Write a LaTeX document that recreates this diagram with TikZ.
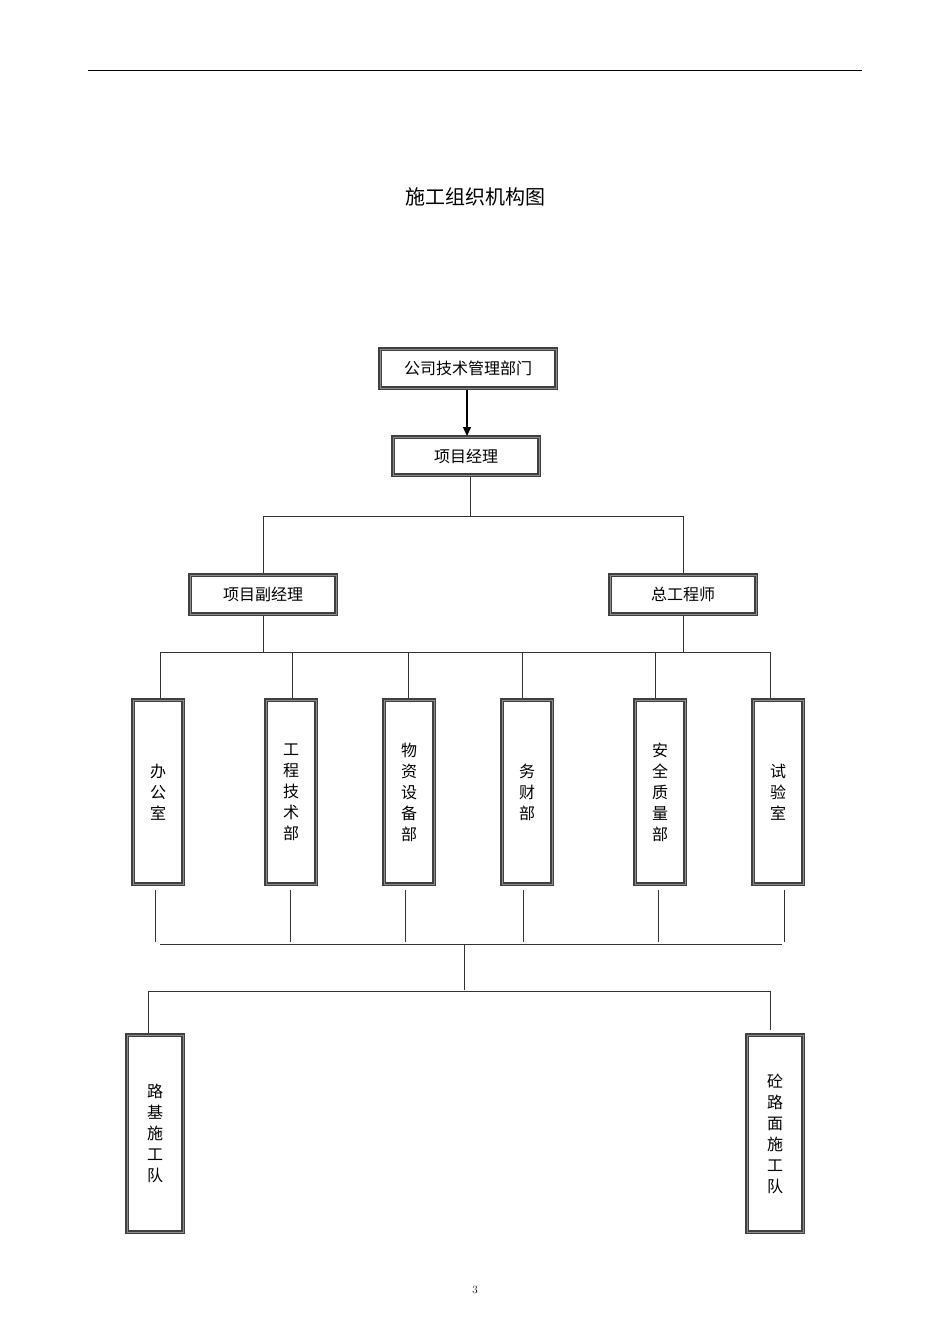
\documentclass[tikz,border=0pt]{standalone}
\usepackage{fontspec}
\newfontfamily\cjk{Noto Sans CJK SC}
\usetikzlibrary{arrows.meta}
\begin{document}
\begin{tikzpicture}[x=1pt,y=-1pt,
  ln/.style={line width=1pt,black!80}]
\useasboundingbox (0,0) rectangle (950,1344);
\def\bx#1#2#3#4#5#6{\draw[draw=black!75,line width=3.5pt] (#2,#3) rectangle (#4,#5);
 \draw[black!45,line width=1pt] (#2,#3) rectangle (#4,#5);
 \node[font=\cjk\fontsize{16}{21}\selectfont,align=center,inner sep=0pt] (#1) at ({(#2+#4)/2},{(#3+#5)/2}) {#6};
 \coordinate (#1t) at ({(#2+#4)/2},#3);}
\draw[line width=1pt] (88,70) -- (862,70);
\node[font=\cjk\fontsize{20}{24}\selectfont] (title) at (475,197) {施工组织机构图};
\bx{a}{380}{349}{556}{388}{公司技术管理部门}
\bx{b}{393}{437}{539}{475}{项目经理}
\bx{c}{190}{575}{336}{614}{项目副经理}
\bx{d}{610}{575}{756}{614}{总工程师}
\coordinate (a1) at (467,390); \coordinate (b1) at (467,436);
\draw[line width=1.4pt,-{Triangle[length=9pt,width=8pt]}] (a1) -- (b1);
\coordinate (p1) at (470,477); \coordinate (p2) at (470,516);
\coordinate (l1) at (263,516); \coordinate (r1) at (683,516);
\coordinate (c1) at (263,573); \coordinate (d1) at (683,573);
\draw[ln] (p1) -- (p2); \draw[ln] (c1) -- (l1) -- (r1) -- (d1);
\coordinate (c2) at (263,616); \coordinate (c3) at (263,652);
\coordinate (d2) at (683,616); \coordinate (d3) at (683,652);
\draw[ln] (c2)--(c3); \draw[ln] (d2)--(d3);
\coordinate (h1) at (160,652); \coordinate (h2) at (770,652);
\draw[ln] (h1)--(h2);
\bx{e1}{133}{700}{183}{884}{办\\公\\室}
\bx{e2}{266}{700}{316}{884}{工\\程\\技\\术\\部}
\bx{e3}{384}{700}{434}{884}{物\\资\\设\\备\\部}
\bx{e4}{502}{700}{552}{884}{务\\财\\部}
\bx{e5}{635}{700}{685}{884}{安\\全\\质\\量\\部}
\bx{e6}{753}{700}{803}{884}{试\\验\\室}
\foreach \x/\y in {160/652,292/652,408/652,522/652,655/652,770/652}{
  \draw[ln] (\x,\y) -- (\x,698);}
\foreach \x in {155,290,405,523,658,784}{
  \draw[ln] (\x,890) -- (\x,942);}
\coordinate (g1) at (160,944); \coordinate (g2) at (782,944);
\draw[ln] (g1)--(g2);
\coordinate (m1) at (464,944); \coordinate (m2) at (464,990);
\draw[ln] (m1)--(m2);
\coordinate (k1) at (148,991); \coordinate (k2) at (770,991);
\draw[ln] (k1)--(k2);
\bx{f1}{127}{1035}{183}{1232}{路\\基\\施\\工\\队}
\bx{f2}{747}{1035}{803}{1232}{砼\\路\\面\\施\\工\\队}
\draw[ln] (k1) -- (148,1033);
\draw[ln] (k2) -- (770,1030);
\node[font=\fontsize{11}{13}\selectfont] (pg) at (475,1290) {3};
\end{tikzpicture}
\end{document}
